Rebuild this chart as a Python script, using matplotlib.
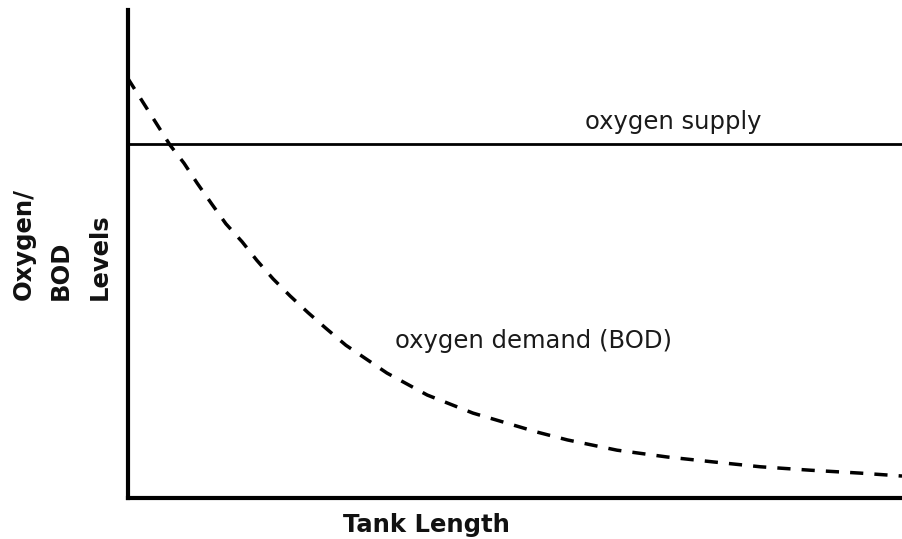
import matplotlib
matplotlib.use("Agg")
import matplotlib.pyplot as plt

# Data (arbitrary units)
tank_length = [0.0, 0.55, 0.73, 0.90, 1.09, 1.27, 1.48, 1.67, 1.88, 2.10, 2.33,
               2.56, 2.82, 3.35, 3.87, 4.46, 5.29, 5.68, 6.32, 6.97, 7.56,
               8.17, 8.81, 9.46, 10.0]
oxygen_demand = [8.61, 7.23, 6.86, 6.45, 6.02, 5.62, 5.25, 4.87, 4.49, 4.14, 3.80,
                 3.48, 3.13, 2.56, 2.11, 1.74, 1.35, 1.19, 0.98, 0.84, 0.74,
                 0.64, 0.57, 0.51, 0.45]
oxygen_supply = 7.25
supply_label = "oxygen supply"
demand_label = "oxygen demand (BOD)"
x_label = "Tank Length"
y_label_lines = ["Oxygen/", "BOD", "Levels"]

W, H = 902, 539
fig = plt.figure(figsize=(W / 100, H / 100), dpi=100)

def fx(px):
    return px / W

def fy(py):
    return 1 - py / H

ax = fig.add_axes([fx(127.5), fy(498), (902 - 127.5) / W, (498 - 10) / H])
ax.set_xlim(0, 10)
ax.set_ylim(0, 10)

ax.axhline(oxygen_supply, color="black", lw=2.0)
ax.plot(tank_length, oxygen_demand, color="black", lw=2.5,
        linestyle=(0, (3.8, 3.2)), dash_capstyle="butt")

for s in ["top", "right"]:
    ax.spines[s].set_visible(False)
for s in ["left", "bottom"]:
    ax.spines[s].set_linewidth(3.0)
    ax.spines[s].set_color("black")
ax.set_xticks([])
ax.set_yticks([])

fam = ["DejaVu Sans"]
fig.text(fx(585), fy(129), supply_label, fontsize=17.5, family=fam,
         ha="left", va="baseline", color="#1a1a1a")
fig.text(fx(395), fy(348), demand_label, fontsize=17.5, family=fam,
         ha="left", va="baseline", color="#1a1a1a")

fig.text(fx(426), fy(532), x_label, fontsize=17.5, fontweight="bold",
         family=fam, ha="center", va="baseline", color="#111111")

for bx, line in zip([31, 68, 107], y_label_lines):
    fig.text(fx(bx), fy(300), line, fontsize=17.5, fontweight="bold",
             family=fam, rotation=90, rotation_mode="anchor",
             ha="left", va="baseline", color="#111111")

fig.savefig("out.png", dpi=100, facecolor="white")
